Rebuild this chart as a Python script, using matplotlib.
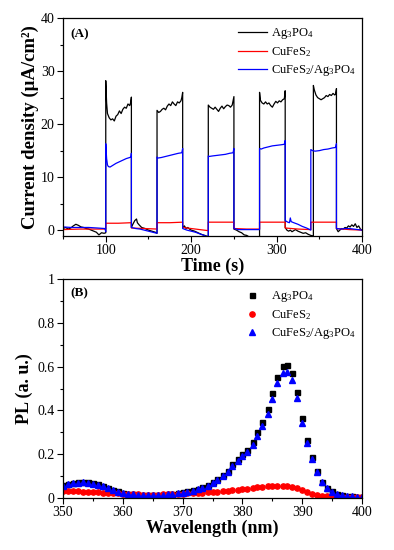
import numpy as np
import matplotlib
matplotlib.use('Agg')
import matplotlib.pyplot as plt
from matplotlib.ticker import MultipleLocator

plt.rcParams['font.family'] = ['Liberation Serif', 'DejaVu Serif']
plt.rcParams['mathtext.fontset'] = 'custom'
plt.rcParams['mathtext.rm'] = 'Liberation Serif'
plt.rcParams['mathtext.default'] = 'regular'

# ---- (A) photocurrent vs time ----
t_ag = [50, 53, 56, 59, 62, 65, 68, 71, 74, 77, 80, 83, 86, 89, 92, 95, 98, 100,
        100, 101, 102, 104, 106, 108, 110, 112, 114, 116, 118, 120, 122, 124, 126, 128, 129, 130,
        130, 132, 134, 136, 137, 139, 142, 146, 150, 154, 158, 160,
        160, 162, 164, 166, 168, 170, 172, 174, 176, 178, 180, 182, 184, 186, 188, 189, 190,
        190, 192, 194, 196, 198, 200, 204, 208, 212, 216, 219, 220,
        220, 222, 224, 226, 228, 230, 232, 234, 236, 238, 240, 242, 244, 246, 248, 250,
        250, 253, 256, 259, 262, 265, 268, 272, 276, 280,
        280, 281, 283, 285, 287, 289, 291, 293, 295, 297, 299, 301, 303, 305, 307, 309, 310,
        310, 312, 314, 316, 318, 320, 322, 325, 328, 331, 334, 337, 340, 343,
        343, 344, 346, 348, 350, 352, 354, 356, 358, 360, 362, 364, 366, 368, 369, 370,
        370, 372, 374, 376, 378, 380, 382, 384, 386, 388, 390, 392, 394, 396, 398, 400]
j_ag = [0.3, 0.5, 0.2, 0.4, 0.8, 1.1, 0.9, 0.6, 0.5, 0.3, 0.2, 0.0, -0.2, -0.4, -0.9, -0.5, -0.6, -0.5,
        28.2, 24.0, 22.0, 21.2, 20.8, 21.0, 20.6, 21.5, 21.8, 22.5, 22.0, 22.8, 23.2, 23.0, 23.8, 23.5, 24.0, 25.1,
        0.5, 1.2, 1.8, 2.1, 1.4, 1.0, 0.5, 0.3, 0.0, -0.2, -0.4, -0.6,
        22.6, 22.2, 22.4, 22.8, 23.0, 22.7, 23.4, 23.8, 23.5, 24.2, 23.8, 23.5, 24.2, 24.0, 24.4, 25.0, 26.0,
        0.5, 0.8, 0.3, 0.5, 0.2, 0.0, -0.2, -0.5, -0.8, -1.0, -1.2, -1.3,
        23.6, 23.2, 23.0, 22.8, 23.2, 22.8, 22.4, 23.0, 23.4, 22.9, 23.3, 23.6, 23.5, 23.2, 23.6, 25.2,
        0.2, 0.0, -0.3, -0.5, -0.9, -1.0, -1.3, -1.5, -1.5, -1.5,
        26.0, 24.5, 24.0, 23.8, 24.2, 23.8, 24.0, 23.5, 23.2, 23.8, 24.3, 24.0, 24.4, 24.2, 24.6, 24.8, 26.3,
        0.5, 0.0, -0.2, 0.0, -0.3, -0.1, 0.1, -0.2, -0.4, -0.6, -0.5, -0.8, -1.0, -1.1,
        27.3, 26.5, 25.5, 25.0, 24.8, 24.6, 24.8, 25.0, 25.4, 25.2, 25.6, 25.4, 25.8, 25.5, 25.7, 26.7,
        0.3, -0.3, 0.0, 0.3, 0.2, 0.5, 0.4, 0.8, 0.6, 1.0, 0.7, 1.2, 0.5, 0.8, 0.2, 0.0]

t_cu = [50, 70, 90, 100, 100, 115, 130, 130, 145, 160, 160, 175, 190, 190, 205, 220,
        220, 235, 250, 250, 265, 280, 280, 295, 310, 310, 325, 340, 340, 355, 370, 370, 385, 400]
j_cu = [0.1, 0.2, 0.2, 0.2, 1.3, 1.3, 1.4, 0.4, 0.3, 0.2, 1.4, 1.4, 1.5, 0.5, 0.2, -0.1,
        1.5, 1.5, 1.5, 0.3, 0.2, 0.2, 1.5, 1.5, 1.5, 0.4, 0.2, 0.1, 1.5, 1.5, 1.5, 0.3, 0.1, 0.0]

t_co = [50, 60, 70, 80, 90, 99, 100,
        100, 101, 102, 103, 105, 108, 112, 116, 120, 124, 128, 129.5, 130,
        130, 135, 140, 145, 150, 155, 160,
        160, 161, 165, 170, 175, 180, 185, 189, 190,
        190, 195, 200, 205, 210, 215, 220,
        220, 221, 225, 230, 235, 240, 245, 249, 250,
        250, 255, 260, 265, 270, 275, 280,
        280, 282, 285, 290, 295, 300, 305, 309, 310,
        310, 313, 315, 316, 317, 320, 325, 330, 335, 340,
        340, 342, 345, 350, 355, 360, 365, 369, 370,
        370, 375, 380, 385, 390, 395, 400]
j_co = [0.6, 0.5, 0.5, 0.5, 0.4, 0.3, -0.3,
        16.3, 13.5, 12.3, 12.0, 11.9, 12.2, 12.6, 12.9, 13.2, 13.5, 13.7, 13.8, 14.5,
        0.5, 0.3, 0.2, 0.0, -0.2, -0.4, -0.6,
        13.8, 13.6, 13.7, 13.9, 14.1, 14.3, 14.5, 14.6, 15.4,
        0.3, 0.0, -0.2, -0.4, -0.7, -1.0, -1.3,
        14.0, 13.9, 14.0, 14.1, 14.2, 14.3, 14.5, 14.6, 15.4,
        0.3, 0.1, 0.1, 0.1, 0.1, 0.1, 0.1,
        15.4, 15.3, 15.5, 15.7, 15.9, 16.0, 16.1, 16.2, 16.9,
        1.8, 1.5, 1.4, 2.3, 1.6, 1.4, 1.1, 0.7, 0.4, 0.0,
        15.2, 15.0, 14.9, 15.0, 15.2, 15.3, 15.5, 15.6, 16.3,
        0.3, 0.2, 0.3, 0.3, 0.2, 0.1, 0.0]

# ---- (B) PL spectra ----
wl = [350.0, 350.8, 351.7, 352.5, 353.3, 354.2, 355.0, 355.8, 356.7, 357.5, 358.3, 359.2,
      360.0, 360.8, 361.7, 362.5, 363.3, 364.2, 365.0, 365.8, 366.7, 367.5, 368.3, 369.2,
      370.0, 370.8, 371.7, 372.5, 373.3, 374.2, 375.0, 375.8, 376.7, 377.5, 378.3, 379.2,
      380.0, 380.8, 381.7, 382.5, 383.3, 384.2, 385.0, 385.8, 386.7, 387.5, 388.3, 389.2,
      390.0, 390.8, 391.7, 392.5, 393.3, 394.2, 395.0, 395.8, 396.7, 397.5, 398.3, 399.2, 400.0]
pl_ag = [0.058, 0.065, 0.070, 0.072, 0.073, 0.072, 0.068, 0.062, 0.055, 0.045, 0.037, 0.030,
         0.025, 0.020, 0.018, 0.016, 0.015, 0.015, 0.015, 0.015, 0.016, 0.018, 0.020, 0.022,
         0.026, 0.030, 0.035, 0.042, 0.050, 0.060, 0.073, 0.088, 0.105, 0.125, 0.155, 0.180,
         0.200, 0.220, 0.255, 0.300, 0.349, 0.406, 0.479, 0.555, 0.603, 0.608, 0.573, 0.486,
         0.365, 0.266, 0.187, 0.122, 0.074, 0.047, 0.030, 0.020, 0.014, 0.010, 0.008, 0.006, 0.005]
pl_cu = [0.032, 0.031, 0.030, 0.030, 0.029, 0.028, 0.027, 0.026, 0.025, 0.023, 0.022, 0.021,
         0.020, 0.019, 0.018, 0.017, 0.016, 0.016, 0.016, 0.016, 0.017, 0.017, 0.018, 0.019,
         0.020, 0.021, 0.022, 0.023, 0.025, 0.026, 0.028, 0.029, 0.031, 0.033, 0.035, 0.037,
         0.040, 0.043, 0.046, 0.049, 0.052, 0.054, 0.056, 0.057, 0.056, 0.054, 0.050, 0.044,
         0.035, 0.027, 0.020, 0.014, 0.010, 0.008, 0.006, 0.005, 0.004, 0.004, 0.003, 0.003, 0.003]
pl_co = [0.055, 0.062, 0.067, 0.070, 0.071, 0.070, 0.066, 0.060, 0.053, 0.044, 0.036, 0.029,
         0.024, 0.019, 0.017, 0.015, 0.014, 0.014, 0.014, 0.014, 0.015, 0.017, 0.019, 0.021,
         0.025, 0.029, 0.033, 0.040, 0.047, 0.057, 0.069, 0.083, 0.100, 0.119, 0.147, 0.171,
         0.190, 0.210, 0.243, 0.285, 0.330, 0.385, 0.452, 0.525, 0.570, 0.575, 0.540, 0.456,
         0.345, 0.252, 0.180, 0.118, 0.072, 0.045, 0.029, 0.019, 0.013, 0.010, 0.008, 0.006, 0.005]

labels = ['Ag$_3$PO$_4$', 'CuFeS$_2$', 'CuFeS$_2$/Ag$_3$PO$_4$']

fig = plt.figure(figsize=(3.94, 5.5), dpi=100)
ax1 = fig.add_axes([0.160, 0.571, 0.759, 0.396])
ax2 = fig.add_axes([0.160, 0.0945, 0.759, 0.398])

ax1.plot(t_ag, j_ag, color='black', lw=0.9, label=labels[0])
ax1.plot(t_cu, j_cu, color='red', lw=0.9, label=labels[1])
ax1.plot(t_co, j_co, color='blue', lw=0.9, label=labels[2])
ax1.set_xlim(50, 400)
ax1.set_ylim(-1.1, 40)
ax1.xaxis.set_major_locator(MultipleLocator(100))
ax1.xaxis.set_minor_locator(MultipleLocator(50))
ax1.yaxis.set_major_locator(MultipleLocator(10))
ax1.yaxis.set_minor_locator(MultipleLocator(5))
ax1.set_xlabel('Time (s)', fontsize=13, fontweight='bold', labelpad=0)
ax1.set_ylabel('Current density (μA/cm²)', fontsize=13.5, fontweight='bold', labelpad=1)
ax1.text(0.025, 0.955, '(A)', transform=ax1.transAxes, fontsize=9.5, fontweight='bold', va='top')
ax1.legend(loc='upper right', bbox_to_anchor=(1.015, 1.015), frameon=False, fontsize=9,
           handlelength=2.3, handletextpad=0.3, labelspacing=0.32)

ax2.plot(wl, pl_ag, 's', color='black', ms=3.6, label=labels[0])
ax2.plot(wl, pl_cu, 'o', color='red', ms=3.8, label=labels[1])
ax2.plot(wl, pl_co, '^', color='blue', ms=4.0, label=labels[2])
ax2.set_xlim(350, 400)
ax2.set_ylim(0, 1.0)
ax2.xaxis.set_major_locator(MultipleLocator(10))
ax2.xaxis.set_minor_locator(MultipleLocator(5))
ax2.yaxis.set_major_locator(MultipleLocator(0.2))
ax2.yaxis.set_minor_locator(MultipleLocator(0.1))
ax2.set_xlabel('Wavelength (nm)', fontsize=13, fontweight='bold', labelpad=0)
ax2.set_ylabel('PL (a. u.)', fontsize=13, fontweight='bold', labelpad=3)
ax2.text(0.025, 0.965, '(B)', transform=ax2.transAxes, fontsize=9.5, fontweight='bold', va='top')
ax2.legend(loc='upper right', bbox_to_anchor=(1.015, 1.005), frameon=False, fontsize=9,
           handlelength=1.2, handletextpad=0.9, labelspacing=0.32)

for ax in (ax1, ax2):
    ax.tick_params(which='both', direction='out', labelsize=10, top=False, right=False, pad=2)
    ax.tick_params(which='major', length=4, width=0.8)
    ax.tick_params(which='minor', length=2.5, width=0.8)
    for s in ax.spines.values():
        s.set_linewidth(0.9)
ax2.yaxis.set_major_formatter(matplotlib.ticker.FormatStrFormatter('%g'))

fig.savefig('out.png', dpi=100)
